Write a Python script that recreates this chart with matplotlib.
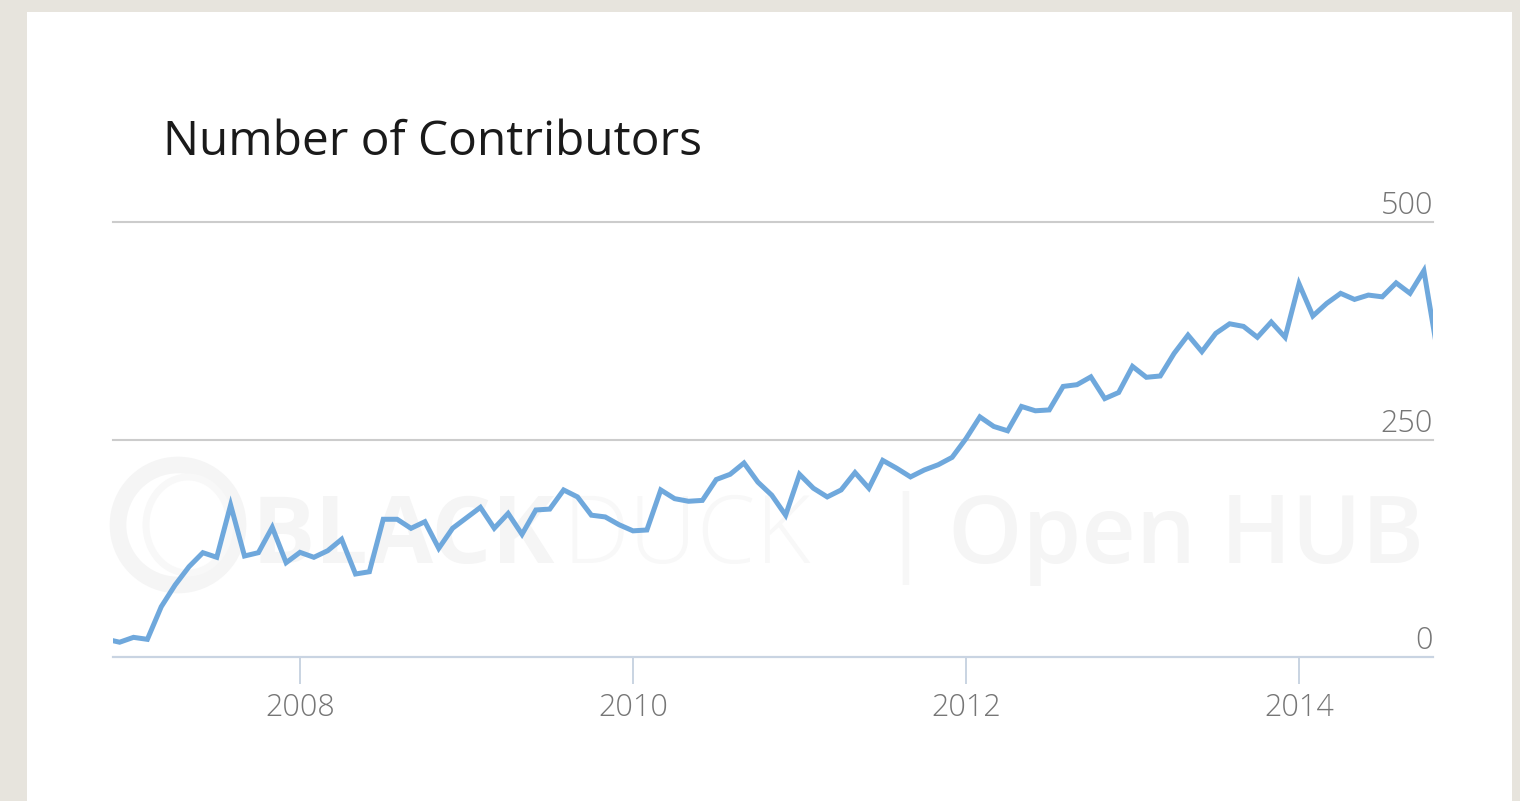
import matplotlib
matplotlib.use("Agg")
import matplotlib.pyplot as plt
from matplotlib.patches import Ellipse, Rectangle

# ---- data (monthly contributors, Nov 2006 .. Nov 2014) ----
start_year = 2006
start_month = 11
contributors = [
    20.6, 17,                                                           # 2006 Nov-Dec
    22.6, 20.3, 57.8, 82.8, 103.8, 119.9, 114.6, 174.7, 116.1, 119.9, 149.1, 108.4,  # 2007
    120.3, 114.6, 122.2, 135.3, 95.4, 98, 158.3, 158.3, 147.9, 155.5, 124.9, 148,    # 2008
    160, 172, 148, 165, 141, 169, 170, 192, 184, 163, 161, 152,                      # 2009
    145, 146, 192, 182, 179, 180, 204, 210, 223, 201, 186, 163,                      # 2010
    210, 194, 184, 192, 212, 194, 226, 217, 207, 215, 221, 229.5,                    # 2011
    251, 276, 265, 260, 288, 283, 284, 311, 313, 322, 297, 304,                      # 2012
    334, 321.5, 323, 349, 370, 351, 372, 383, 380, 367.5, 385, 367.5,                # 2013
    429, 392, 406.5, 418, 411, 416, 414, 430, 418, 444, 349,                         # 2014
]
x_ticks = [2008, 2010, 2012, 2014]
x_tick_labels = ["2008", "2010", "2012", "2014"]
y_ticks = [0, 250, 500]
y_tick_labels = ["0", "250", "500"]
title = "Number of Contributors"

# decimal-year positions for each month
xs = []
for i in range(len(contributors)):
    m = start_month - 1 + i
    xs.append(start_year + m // 12 + (m % 12) / 12.0)

W, H = 1520, 801
fig = plt.figure(figsize=(W / 100, H / 100), dpi=100)
fig.patch.set_facecolor("#E7E4DD")

def fx(px):
    return px / W

def fy(py):
    return 1 - py / H

# white panel
fig.patches.append(Rectangle((fx(27), 0), fx(1512) - fx(27), fy(12), transform=fig.transFigure,
                             facecolor="white", edgecolor="none", zorder=0))

ax = fig.add_axes([fx(113), fy(657), fx(1433) - fx(113), fy(222) - fy(657)])
ax.set_facecolor("none")
ax.set_zorder(2)

# watermark (very faint)
wm_c = "#F5F5F5"
fig.patches.append(Ellipse((fx(178), fy(525)), 2 * 60 / W, 2 * 60 / H, transform=fig.transFigure,
                           facecolor="none", edgecolor=wm_c, linewidth=12, zorder=1))
fig.patches.append(Ellipse((fx(188), fy(525)), 2 * 42 / W, 2 * 48 / H, transform=fig.transFigure,
                           facecolor="none", edgecolor="#F8F8F8", linewidth=5, zorder=1))
wm_font = ["Open Sans", "DejaVu Sans"]
fig.text(fx(252), fy(563), "BLACK", fontsize=68, fontweight="bold", color=wm_c,
         family=wm_font, ha="left", va="baseline", zorder=1)
fig.text(fx(562), fy(563), "DUCK", fontsize=68, fontweight="light", color="#F8F8F8",
         family=wm_font, ha="left", va="baseline", zorder=1)
fig.text(fx(905), fy(563), "|", fontsize=68, color="#F7F7F7",
         family=wm_font, ha="center", va="baseline", zorder=1)
fig.text(fx(948), fy(563), "Open HUB", fontsize=68, fontweight="semibold", color=wm_c,
         family=wm_font, ha="left", va="baseline", zorder=1)

# line
ax.plot(xs, contributors, color="#6FA8DC", linewidth=3.6, solid_joinstyle="miter",
        clip_on=True, zorder=3)

ax.set_xlim(2008 - 187 / 166.5, 2014 + 134 / 166.5)
ax.set_ylim(0, 500)

# grid lines
for yv in y_ticks:
    if yv == 0:
        ax.axhline(yv, color="#C9D4E2", linewidth=1.6, zorder=2, clip_on=False)
    else:
        ax.axhline(yv, color="#CCCCCC", linewidth=1.5, zorder=2, clip_on=False)

for s in ax.spines.values():
    s.set_visible(False)

lab_font = ["Open Sans", "DejaVu Sans"]
ax.set_xticks(x_ticks)
ax.set_xticklabels(x_tick_labels, fontsize=22, color="#767676", family=lab_font, fontweight="light")
ax.tick_params(axis="x", length=19.5, width=1.4, color="#C9D4E2", pad=6)
ax.set_yticks([])

for yv, lab in zip(y_ticks, y_tick_labels):
    ax.annotate(lab, xy=(1, yv), xycoords=("axes fraction", "data"),
                xytext=(0, 5.5), textcoords="offset points", ha="right", va="baseline",
                fontsize=22, color="#767676", family=lab_font, fontweight="light")

fig.text(fx(163), fy(155), title, fontsize=34.5, color="#1a1a1a",
         family=["Open Sans", "DejaVu Sans"], ha="left", va="baseline")

fig.savefig("out.png", dpi=100, facecolor=fig.get_facecolor())
